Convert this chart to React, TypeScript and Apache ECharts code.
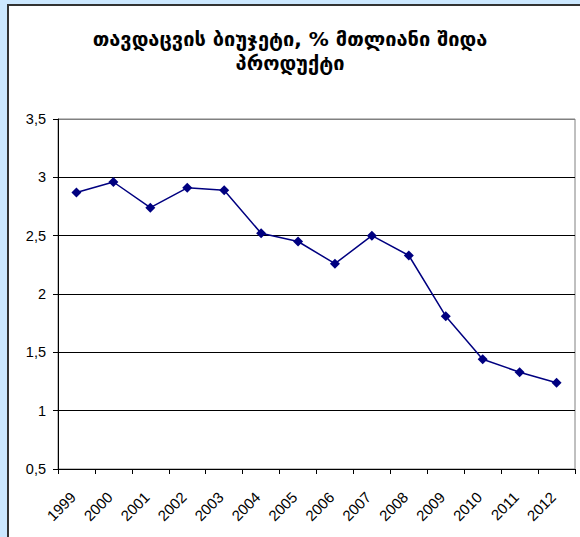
import React, { useEffect, useRef } from "react";
import * as echarts from "echarts";

const titleText = "თავდაცვის ბიუჯეტი, % მთლიანი შიდა\nპროდუქტი";
const years = ["1999", "2000", "2001", "2002", "2003", "2004", "2005", "2006", "2007", "2008", "2009", "2010", "2011", "2012"];
const defenceShare = [2.87, 2.96, 2.74, 2.91, 2.89, 2.52, 2.45, 2.26, 2.5, 2.33, 1.81, 1.44, 1.33, 1.24];
const yTicks = { min: 0.5, max: 3.5, interval: 0.5 };

export default function App() {
  const ref = useRef<HTMLDivElement>(null);
  useEffect(() => {
    if (!ref.current) return;
    const chart = echarts.init(ref.current, null, { renderer: "svg" });
    chart.setOption({
      animation: false,
      title: {
        text: titleText,
        left: "center",
        top: 22,
        textStyle: {
          fontFamily: "DejaVu Sans",
          fontWeight: "bold",
          fontSize: 20,
          color: "#000",
          lineHeight: 24,
        },
      },
      grid: {
        left: 58,
        right: 5,
        top: 119,
        bottom: 68,
        show: true,
        borderColor: "#808080",
        borderWidth: 1,
        backgroundColor: "transparent",
      },
      xAxis: {
        type: "category",
        data: years,
        boundaryGap: true,
        axisLine: { lineStyle: { color: "#000", width: 1 } },
        axisTick: { show: true, length: 5, alignWithLabel: false, lineStyle: { color: "#000" } },
        axisLabel: {
          rotate: 45,
          margin: 22,
          padding: [0, 5, 0, 0],
          fontFamily: "Liberation Sans",
          fontSize: 15,
          color: "#000",
          interval: 0,
        },
        splitLine: { show: false },
      },
      yAxis: {
        type: "value",
        min: yTicks.min,
        max: yTicks.max,
        interval: yTicks.interval,
        axisLine: { show: true, lineStyle: { color: "#000", width: 1 } },
        axisTick: { show: true, length: 5, lineStyle: { color: "#000" } },
        axisLabel: {
          margin: 12,
          fontFamily: "Liberation Sans",
          fontSize: 14.5,
          color: "#000",
          formatter: (v: number) => String(v).replace(".", ","),
        },
        splitLine: {
          show: true,
          lineStyle: {
            color: ["#000", "#000", "#000", "#000", "#000", "#000", "#808080"],
            width: 1,
          },
        },
      },
      series: [
        {
          type: "line",
          data: defenceShare,
          symbol: "diamond",
          symbolSize: 10,
          lineStyle: { color: "#000080", width: 1.5 },
          itemStyle: { color: "#000080" },
        },
      ],
    });
    return () => chart.dispose();
  }, []);

  return (
    <div
      style={{
        position: "fixed",
        left: 0,
        top: 0,
        width: 580,
        height: 537,
        overflow: "hidden",
        background: "#CCE8FF",
      }}
    >
      <div
        style={{
          position: "absolute",
          left: 7,
          top: 4,
          width: 700,
          height: 700,
          background: "#fff",
          border: "2px solid #333",
        }}
      />
      <div
        ref={ref}
        style={{ position: "absolute", left: 0, top: 0, width: 580, height: 537 }}
      />
    </div>
  );
}
